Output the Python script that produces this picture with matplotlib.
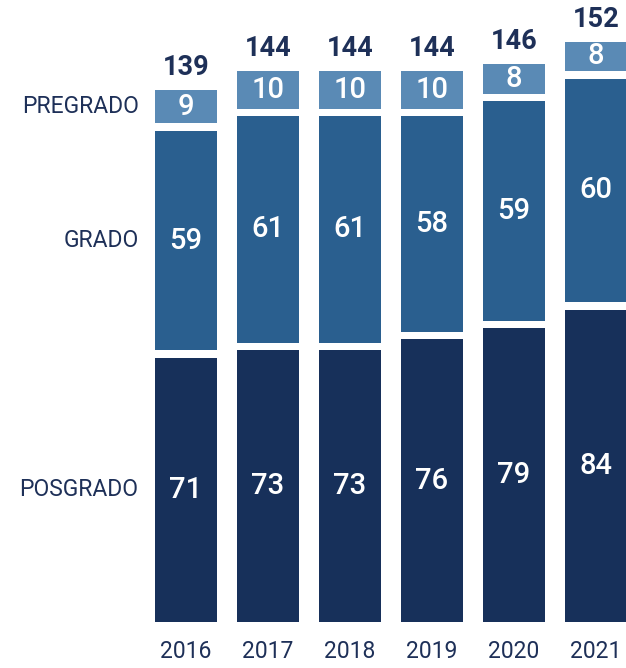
import numpy as np
import matplotlib.pyplot as plt

# data
years = ["2016", "2017", "2018", "2019", "2020", "2021"]
posgrado = [71, 73, 73, 76, 79, 84]
grado = [59, 61, 61, 58, 59, 60]
pregrado = [9, 10, 10, 10, 8, 8]
totals = [139, 144, 144, 144, 146, 152]
categories = ["POSGRADO", "GRADO", "PREGRADO"]

colors = ["#17305a", "#2a5f8f", "#5a8ab5"]
text_color = "#1e3058"

plt.rcParams['font.family'] = ['Roboto', 'DejaVu Sans']

fig = plt.figure(figsize=(6.26, 6.68), dpi=100)
ax = fig.add_axes([0, 0, 1, 1])

px = 3.72          # pixels per unit on the y axis
gap = 7.5 / px     # white gap between stacked segments
x = np.arange(len(years))
width = 0.755

series = [posgrado, grado, pregrado]
bottoms = np.zeros(len(years))
mids = []
for vals, col in zip(series, colors):
    vals = np.array(vals, dtype=float)
    ax.bar(x, vals, width=width, bottom=bottoms, color=col, linewidth=0)
    mid = bottoms + vals / 2
    mids.append(mid)
    for xi, m, v in zip(x, mid, vals):
        ax.text(xi, m, f"{int(v)}", ha="center", va="center", color="white",
                fontsize=21, fontweight="medium")
    bottoms = bottoms + vals + gap

tops = bottoms - gap
for xi, t, tot in zip(x, tops, totals):
    ax.text(xi, t + 15 / px, str(tot), ha="center", va="baseline",
            color=text_color, fontsize=19.5, fontweight="bold")

# category labels on the left, aligned with the first bar's segments
for cat, mid in zip(categories, mids):
    ax.text(x[0] - width / 2 - 0.2, mid[0], cat, ha="right", va="center",
            color=text_color, fontsize=16.5, fontweight="normal")

# year labels under the bars
for xi, yr in zip(x, years):
    ax.text(xi, -30 / px, yr, ha="center", va="center",
            color=text_color, fontsize=16.5, fontweight="normal")

ax.set_xlim(-2.268, 5.366)
ax.set_ylim(-46 / px, (668 - 46) / px)
ax.axis("off")

fig.savefig("out.png", dpi=100)
